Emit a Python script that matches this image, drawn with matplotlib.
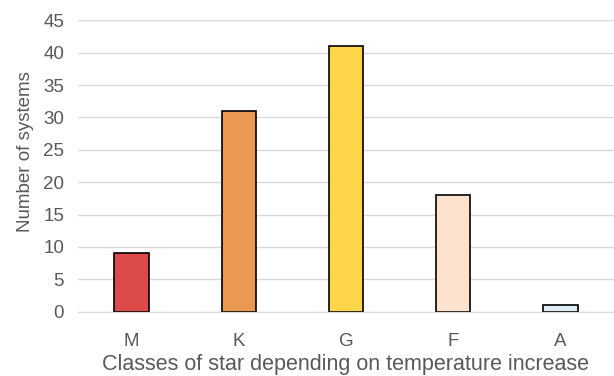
import matplotlib
matplotlib.use("Agg")
from matplotlib import pyplot as plt

classes = ["M", "K", "G", "F", "A"]
counts = [9, 31, 41, 18, 1]
colors = ["#DC4A4A", "#EB9950", "#FFD54A", "#FDE3CE", "#DDEBF5"]

text_col = "#595959"
plt.rcParams["font.family"] = ["Liberation Sans", "DejaVu Sans"]

fig = plt.figure(figsize=(6.14, 3.76), dpi=100)
ax = fig.add_axes([0.127, 0.171, 0.873, 0.775])

x = range(len(classes))
ax.bar(x, counts, width=0.32, color=colors, edgecolor="black", linewidth=1.2, zorder=3)

ax.set_xlim(-0.5, len(classes) - 0.5)
ax.set_ylim(0, 45)
ax.set_yticks(range(0, 46, 5))
ax.set_xticks(list(x))
ax.set_xticklabels(classes)

ax.yaxis.grid(True, color="#D9D9D9", linewidth=1, zorder=0)
for s in ["top", "right", "left"]:
    ax.spines[s].set_visible(False)
ax.spines["bottom"].set_color("#D9D9D9")
ax.spines["bottom"].set_zorder(4)
ax.tick_params(axis="y", length=0, labelsize=13.5, colors=text_col, pad=10)
ax.tick_params(axis="x", length=0, labelsize=13.5, colors=text_col, pad=15)

ax.set_xlabel("Classes of star depending on temperature increase", fontsize=15.5, color=text_col, labelpad=3)
ax.set_ylabel("Number of systems", fontsize=13.5, color=text_col)
ax.yaxis.set_label_coords(-0.082, 0.55)

fig.savefig("out.png", dpi=100)
